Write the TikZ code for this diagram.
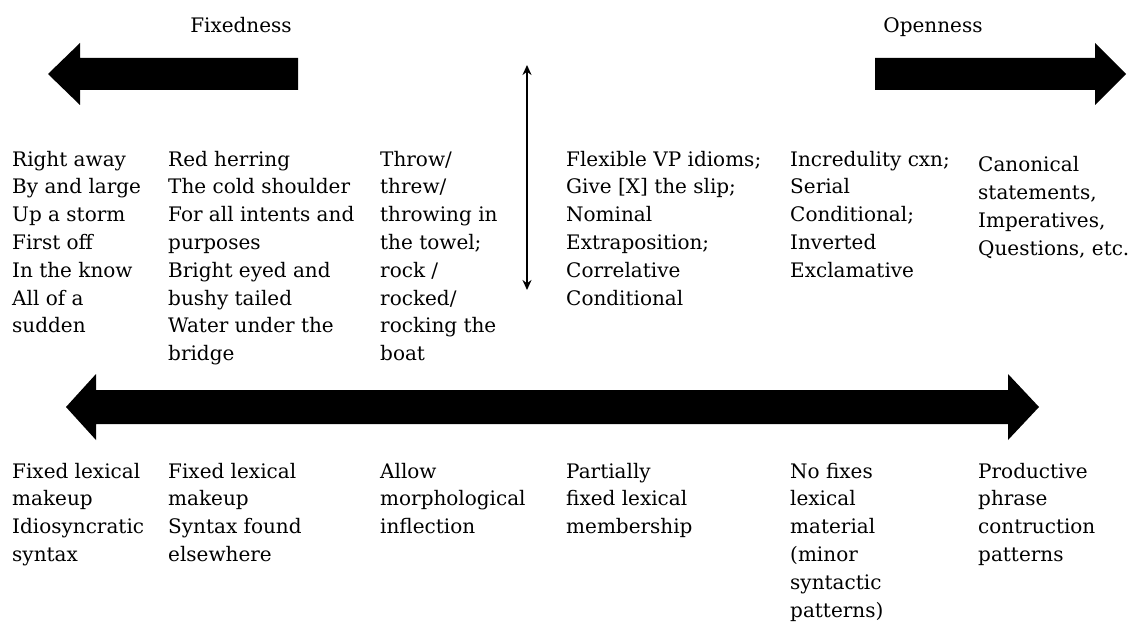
\documentclass[tikz,border=0pt]{standalone}
\usepackage{fontspec}
\setmainfont{DejaVu Serif}
\usetikzlibrary{arrows.meta}
\begin{document}
\begin{tikzpicture}[x=1pt,y=-1pt,
  txt/.style={anchor=north west, align=left, inner sep=0pt, font=\fontsize{20}{27.8}\selectfont},
  ttl/.style={anchor=base, inner sep=0pt, font=\fontsize{20}{27.8}\selectfont},
  blk/.style={fill=black, draw=none},
  vline/.style={line width=2pt, {Stealth[length=10pt,width=9pt]}-{Stealth[length=10pt,width=9pt]}}]
\useasboundingbox (0,0) rectangle (1129,623);
\fill[white] (0,0) rectangle (1129,623);

% titles
\node[ttl] (fix) at (241,33) {Fixedness};
\node[ttl] (open) at (933,33) {Openness};

% top block arrows
\fill[blk] (48,74) -- (80,43) -- (80,58) -- (298,58) -- (298,90) -- (80,90) -- (80,105) -- cycle;
\fill[blk] (875,58) -- (1095,58) -- (1095,43) -- (1126,74) -- (1095,105) -- (1095,90) -- (875,90) -- cycle;

% vertical double arrow
\coordinate (vt) at (527,65);
\coordinate (vb) at (527,290);
\draw[vline] (vt) -- (vb);

% bottom double block arrow
\fill[blk] (66,407) -- (96,374) -- (96,390) -- (1008,390) -- (1008,374) -- (1039,407)
  -- (1008,440) -- (1008,424) -- (96,424) -- (96,440) -- cycle;

% top text columns (first baseline 166)
\node[txt] (t1) at (12,146.5) {\strut Right away\\By and large\\Up a storm\\First off\\In the know\\All of a\\sudden};
\node[txt] (t2) at (168,146.5) {\strut Red herring\\The cold shoulder\\For all intents and\\purposes\\Bright eyed and\\bushy tailed\\Water under the\\bridge};
\node[txt] (t3) at (380,146.5) {\strut Throw/\\threw/\\throwing in\\the towel;\\rock /\\rocked/\\rocking the\\boat};
\node[txt] (t4) at (566,146.5) {\strut Flexible VP idioms;\\Give [X] the slip;\\Nominal\\Extraposition;\\Correlative\\Conditional};
\node[txt] (t5) at (790,146.5) {\strut Incredulity cxn;\\Serial\\Conditional;\\Inverted\\Exclamative};
\node[txt] (t6) at (978,152.2) {\strut Canonical\\statements,\\Imperatives,\\Questions, etc.};

% bottom text columns (first baseline 478)
\node[txt] (b1) at (12,458.5) {\strut Fixed lexical\\makeup\\Idiosyncratic\\syntax};
\node[txt] (b2) at (168,458.5) {\strut Fixed lexical\\makeup\\Syntax found\\elsewhere};
\node[txt] (b3) at (380,458.5) {\strut Allow\\morphological\\inflection};
\node[txt] (b4) at (566,458.5) {\strut Partially\\fixed lexical\\membership};
\node[txt] (b5) at (790,458.5) {\strut No fixes\\lexical\\material\\(minor\\syntactic\\patterns)};
\node[txt] (b6) at (978,458.5) {\strut Productive\\phrase\\contruction\\patterns};
\end{tikzpicture}
\end{document}
